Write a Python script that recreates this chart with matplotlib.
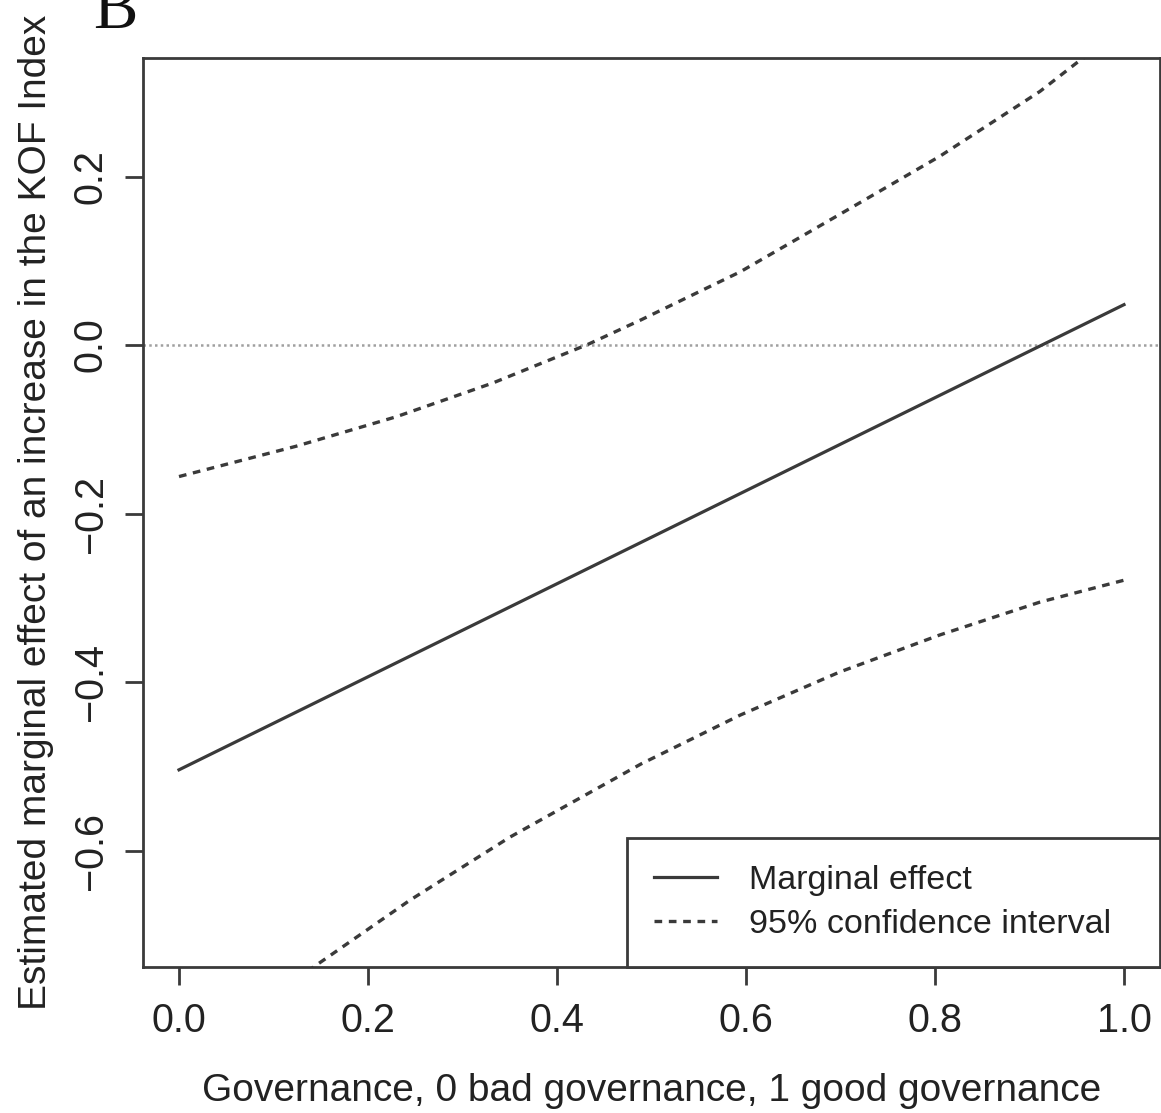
import matplotlib
matplotlib.use("Agg")
import matplotlib.pyplot as plt
import numpy as np

# Data
me_x = [0.0, 1.0]
marginal_effect = [-0.504, 0.048]
upper_x = [0.0, 0.124, 0.230, 0.332, 0.433, 0.489, 0.594, 0.699, 0.805, 0.911, 0.950, 1.0]
ci_upper = [-0.156, -0.120, -0.085, -0.045, 0.001, 0.030, 0.087, 0.155, 0.224, 0.301, 0.335, 0.375]
lower_x = [0.0, 0.1, 0.145, 0.244, 0.350, 0.489, 0.594, 0.699, 0.805, 0.911, 1.0]
ci_lower = [-0.852, -0.771, -0.736, -0.659, -0.584, -0.497, -0.439, -0.388, -0.344, -0.305, -0.279]
xticks = [0.0, 0.2, 0.4, 0.6, 0.8, 1.0]
yticks = [-0.6, -0.4, -0.2, 0.0, 0.2]

plt.rcParams['font.family'] = ['Liberation Sans', 'DejaVu Sans']

W, H = 1161, 1113
fig = plt.figure(figsize=(W / 100, H / 100), dpi=100)
ax = fig.add_axes([143 / W, 1 - 967 / H, (1160 - 143) / W, (967 - 58) / H])

dark = '#3a3a3a'
ax.axhline(0, color='#a0a0a0', lw=1.8, linestyle=(0, (1, 1.3)), zorder=1)
ax.plot(me_x, marginal_effect, color=dark, lw=2.3, label='Marginal effect', zorder=3)
ax.plot(upper_x, ci_upper, color=dark, lw=2.4, linestyle=(0, (2.3, 2.0)),
        label='95% confidence interval', zorder=3)
ax.plot(lower_x, ci_lower, color=dark, lw=2.4, linestyle=(0, (2.3, 2.0)), zorder=3)

ax.set_xlim(-0.0381, 1.0381)
ax.set_ylim(-0.738, 0.3407)
ax.set_xticks(xticks)
ax.set_xticklabels([f"{v:.1f}" for v in xticks])
ax.set_yticks(yticks)
ax.set_yticklabels([f"{v:.1f}".replace('-', '\u2212') for v in yticks], rotation=90, va='center')

for s in ax.spines.values():
    s.set_color(dark)
    s.set_linewidth(2.0)
ax.tick_params(axis='both', length=13, width=2.0, color=dark, labelsize=28.5, labelcolor='#222222')
ax.tick_params(axis='x', pad=12)
ax.tick_params(axis='y', pad=11)

ax.set_xlabel('Governance, 0 bad governance, 1 good governance', fontsize=28, color='#222222', labelpad=24)
ax.set_ylabel('Estimated marginal effect of an increase in the KOF Index', fontsize=28, color='#222222', labelpad=13)

leg_left = (627 - 143) / (1160 - 143)
leg = ax.legend(loc='lower left', bbox_to_anchor=(leg_left, 0.0, 1 - leg_left, 0.2), mode='expand',
                borderaxespad=0, fontsize=24.5,
                frameon=True, fancybox=False, framealpha=1, edgecolor=dark,
                handlelength=1.85, handletextpad=0.94, borderpad=0.8, labelspacing=0.38)
leg.get_frame().set_linewidth(2.0)
for t in leg.get_texts():
    t.set_color('#222222')

fig.text(93 / W, 1 - 28 / H, 'B', fontsize=48, family='Liberation Serif', color='#111111',
         ha='left', va='baseline')

fig.savefig('out.png', dpi=100, facecolor='white')
